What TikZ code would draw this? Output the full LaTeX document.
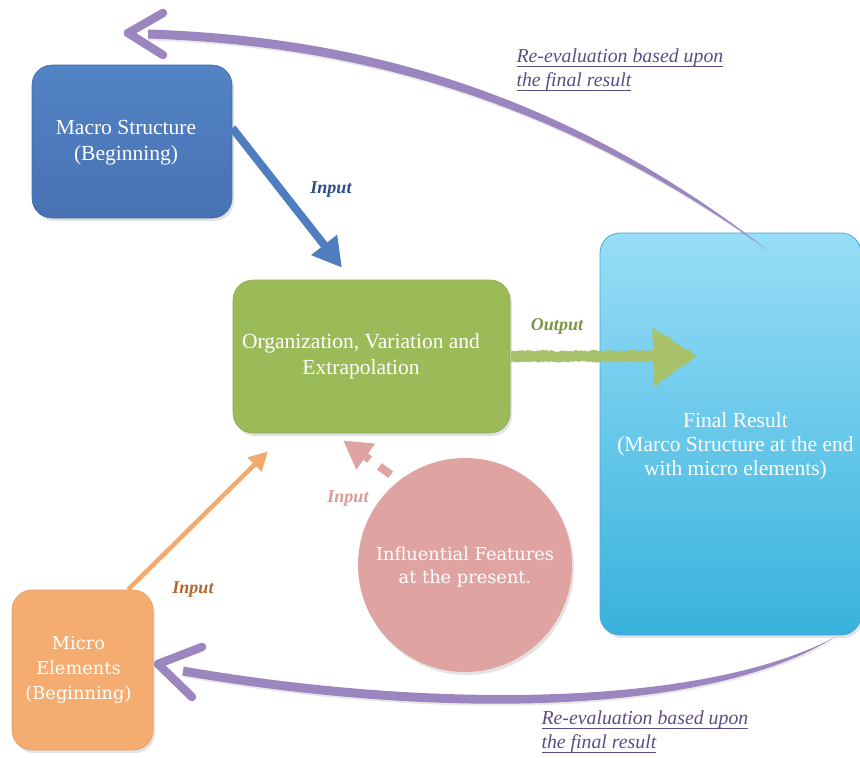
\documentclass[tikz,border=0pt]{standalone}
\usepackage{fontspec}
\setmainfont{Liberation Serif}
\newfontfamily\slabface{DejaVu Serif}
\usetikzlibrary{arrows.meta,shadows,calc,decorations.pathmorphing}

% text with a rule drawn under it
\newsavebox{\underbox}
\newcommand{\lineunder}[1]{\sbox{\underbox}{#1}\leavevmode\rlap{\usebox{\underbox}}\rule[-4.5pt]{\wd\underbox}{1.1pt}}

\definecolor{macroTop}{HTML}{5283C5}
\definecolor{macroBot}{HTML}{4872B3}
\definecolor{orgGreen}{HTML}{9BBB59}
\definecolor{finalTop}{HTML}{98DEF7}
\definecolor{finalBot}{HTML}{37B2DC}
\definecolor{finalEdge}{HTML}{4AA9CF}
\definecolor{microOrange}{HTML}{F5AC70}
\definecolor{pinkCircle}{HTML}{DFA3A2}
\definecolor{loopPurple}{HTML}{9C86BF}
\definecolor{notePurple}{HTML}{5E4C84}
\definecolor{inBlue}{HTML}{2E4C86}
\definecolor{inBrown}{HTML}{B3662F}
\definecolor{inPink}{HTML}{DA9A98}
\definecolor{outGreen}{HTML}{7A9640}
\definecolor{arrowGreen}{HTML}{A8C26C}
\definecolor{arrowOrange}{HTML}{F4A96E}
\definecolor{arrowBlue}{HTML}{4F7EC0}

\begin{document}
\begin{tikzpicture}[x=1pt,y=-1pt,
  boxtext/.style={text=white,align=center,font=\fontsize{21.5}{26}\selectfont},
  slabtext/.style={text=white,align=center,font=\slabface\fontsize{17.8}{24.5}\selectfont},
  softshadow/.style={drop shadow={opacity=0.22,shadow xshift=2pt,shadow yshift=-3pt}},
  roundbox/.style={rounded corners=20pt,softshadow},
  arrowlabel/.style={font=\fontsize{18}{21}\selectfont\bfseries\itshape},
  looplabel/.style={text=notePurple,align=left,font=\fontsize{19.8}{24.5}\selectfont\itshape},
  loopband/.style={fill=loopPurple,drop shadow={opacity=0.18,shadow xshift=1pt,shadow yshift=-2pt}},
  loophead/.style={draw=loopPurple,line width=8.5pt,line cap=round,line join=round},
  roughedge/.style={decorate,decoration={random steps,segment length=2pt,amplitude=0.9pt}}
]
\useasboundingbox (0,0) rectangle (860,758);

% boxes and circle
\node[roundbox,draw=macroBot!90!black,line width=0.6pt,top color=macroTop,bottom color=macroBot,
  minimum width=200pt,minimum height=153pt,
  label={[boxtext,xshift=-6pt,yshift=-1.5pt]center:{Macro Structure\\(Beginning)}}]
  (macro) at (132,141.5) {};

\node[roundbox,draw=orgGreen!90!black,line width=0.6pt,fill=orgGreen,
  minimum width=277pt,minimum height=153pt,
  label={[boxtext,xshift=-10.5pt]center:{Organization, Variation and\\Extrapolation}}]
  (org) at (371.5,356.5) {};

\node[roundbox,draw=finalEdge,line width=0.8pt,top color=finalTop,bottom color=finalBot,
  minimum width=261pt,minimum height=402pt,
  label={[boxtext,font=\fontsize{21.5}{24}\selectfont,xshift=5pt,yshift=-12pt]center:{Final Result\\(Marco Structure at the end\\with micro elements)}}]
  (final) at (730.5,434) {};

\node[circle,softshadow,fill=pinkCircle,minimum size=214pt,
  label={[slabtext,font=\slabface\fontsize{17.8}{23.5}\selectfont,yshift=-2pt]center:{Influential Features\\at the present.}}]
  (infl) at (465,565) {};

\node[roundbox,draw=microOrange!92!black,line width=0.6pt,fill=microOrange,
  minimum width=141pt,minimum height=160pt,
  label={[slabtext,font=\slabface\fontsize{17.8}{25}\selectfont,xshift=-4pt]center:{Micro\\Elements\\(Beginning)}}]
  (micro) at (82.5,670) {};

% input connectors
\draw[arrowBlue,line width=8pt,-{Triangle[length=29pt,width=31pt]}]
  ([yshift=13.5pt]macro.east) -- ([xshift=-29.5pt,yshift=12pt]org.north);
\node[arrowlabel,text=inBlue] (inA) at (331,190) {Input};

\draw[arrowOrange,line width=4.5pt,-{Triangle[length=19pt,width=19pt]}]
  ([xshift=45.5pt]micro.north) -- ([xshift=-103.5pt,yshift=-18pt]org.south);
\node[arrowlabel,text=inBrown] (inB) at (193,590) {Input};

\coordinate (inflOut) at (433,505);
\draw[pinkCircle,line width=8pt,dash pattern=on 14pt off 12pt,
  -{Triangle[length=28pt,width=30pt]}]
  (inflOut) -- ([xshift=-28.5pt,yshift=-7pt]org.south);
\node[arrowlabel,text=inPink] (inC) at (348,499) {Input};

% output connector: a hand-drawn looking block arrow
\coordinate (outTip) at (697,356);
\fill[arrowGreen,roughedge]
  ($(org.east)+(1,-5.5)$) -- ($(outTip)+(-44,-5.5)$) -- ($(outTip)+(-45,-29)$)
  -- (outTip) -- ($(outTip)+(-43,30)$) -- ($(outTip)+(-44,5.5)$)
  -- ($(org.east)+(1,5.5)$) -- cycle;
\node[arrowlabel,text=outGreen] (outL) at (557,326) {Output};

% upper feedback loop: a band tapering to a point at the final box, and an open head
\coordinate (topStart) at ([xshift=36.5pt,yshift=-17pt]final.north);
\coordinate (topTip) at (128,33);
\path[loopband] (topStart)
  .. controls (545.4,77) and (330.5,35.5) .. (148,29.5)
  -- (148,38.5)
  .. controls (329.5,44.5) and (540.6,87) .. (topStart) -- cycle;
\draw[loophead] (163,13) -- (topTip) -- (163,55);
\node[looplabel,anchor=west] (noteTop) at (513,70)
  {\lineunder{Re-evaluation based upon}\\\lineunder{the final result}};

% lower feedback loop
\coordinate (botStart) at ([xshift=-25pt,yshift=-1pt]final.south east);
\coordinate (botTip) at (158,664);
\path[loopband] (botStart)
  .. controls (701,720.4) and (419.2,716.4) .. (182.2,675.4)
  -- (183.8,666.6)
  .. controls (420.8,707.6) and (699,709.6) .. (botStart) -- cycle;
\draw[loophead] (202,647) -- (botTip) -- (192,697);
\node[looplabel,anchor=west] (noteBot) at (538,732)
  {\lineunder{Re-evaluation based upon}\\\lineunder{the final result}};

\end{tikzpicture}
\end{document}
